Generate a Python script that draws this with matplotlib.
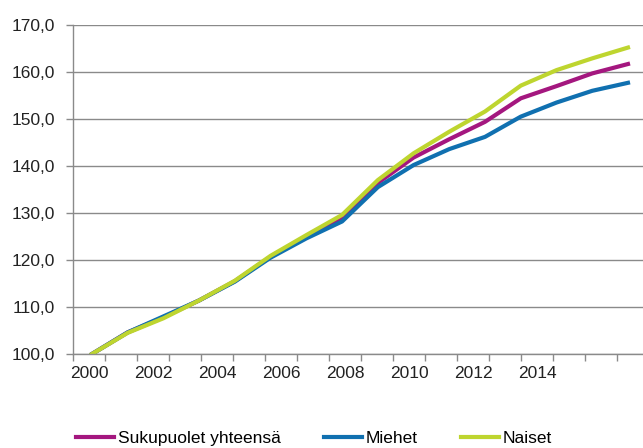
# Libraries
import matplotlib
matplotlib.use("Agg")
import matplotlib.pyplot as plt

# data (index, 2000 = 100)
years = list(range(2000, 2016))
total = [100.0, 104.6, 107.8, 111.4, 115.5, 120.7, 125.0, 128.9, 136.4, 141.8,
         145.7, 149.4, 154.4, 157.0, 159.7, 161.7]
men = [100.0, 104.6, 108.0, 111.4, 115.4, 120.5, 124.6, 128.2, 135.5, 140.2,
       143.6, 146.2, 150.5, 153.5, 156.0, 157.7]
women = [100.0, 104.5, 107.6, 111.4, 115.6, 120.9, 125.3, 129.6, 137.0, 142.7,
         147.3, 151.6, 157.1, 160.4, 162.9, 165.2]
series_names = ["Sukupuolet yhteensä", "Miehet", "Naiset"]
year_labels = [str(y) for y in range(2000, 2016, 2)]
y_ticks = list(range(100, 171, 10))

colors = ["#A4177F", "#1070B0", "#BED52F"]
grey = "#8a8a8a"

plt.rcParams['font.family'] = ['Liberation Sans', 'DejaVu Sans']

# figure 643x448 px
fig = plt.figure(figsize=(6.43, 4.48), dpi=100)
ax = fig.add_axes([73/643, 94/448, 570/643, 329/448])

for vals, name, c in zip([total, men, women], series_names, colors):
    ax.plot(years, vals, color=c, lw=3, label=name, solid_joinstyle='round')

ax.set_ylim(100, 170)
ax.set_xlim(1999.47, 2015.42)
ax.set_yticks(y_ticks)
ax.set_yticklabels([f"{v},0" for v in y_ticks])
ax.yaxis.grid(True, color=grey, lw=1)
ax.set_axisbelow(True)
ax.set_xticks([])
ax.tick_params(axis='y', length=5, width=1, color=grey, pad=8, labelsize=12.5, labelcolor='#222222')
for s in ['top', 'right']:
    ax.spines[s].set_visible(False)
for s in ['left', 'bottom']:
    ax.spines[s].set_color(grey)
    ax.spines[s].set_linewidth(1)

# category style x axis: labels between tick marks
axc = ax.twiny()
axc.xaxis.set_ticks_position('bottom')
axc.set_xlim(0, 570/32)
axc.set_xticks(range(0, 18))
axc.set_xticklabels([])
axc.set_xticks([i + 0.5 for i in range(0, 16, 2)], minor=True)
axc.set_xticklabels(year_labels, minor=True)
axc.tick_params(axis='x', which='major', length=5, width=1, color=grey)
axc.tick_params(axis='x', which='minor', length=0, pad=9, labelsize=12.5, labelcolor='#222222')
for s in axc.spines.values():
    s.set_visible(False)

# legend at the bottom
handles, labels = ax.get_legend_handles_labels()
fig.legend(handles, labels, loc='center left', bbox_to_anchor=(76/643, 10/448),
           ncol=3, frameon=False, fontsize=12.5, handlelength=2.2,
           handletextpad=0.2, columnspacing=2.5, borderpad=0, borderaxespad=0)

plt.savefig('out.png', dpi=100)
